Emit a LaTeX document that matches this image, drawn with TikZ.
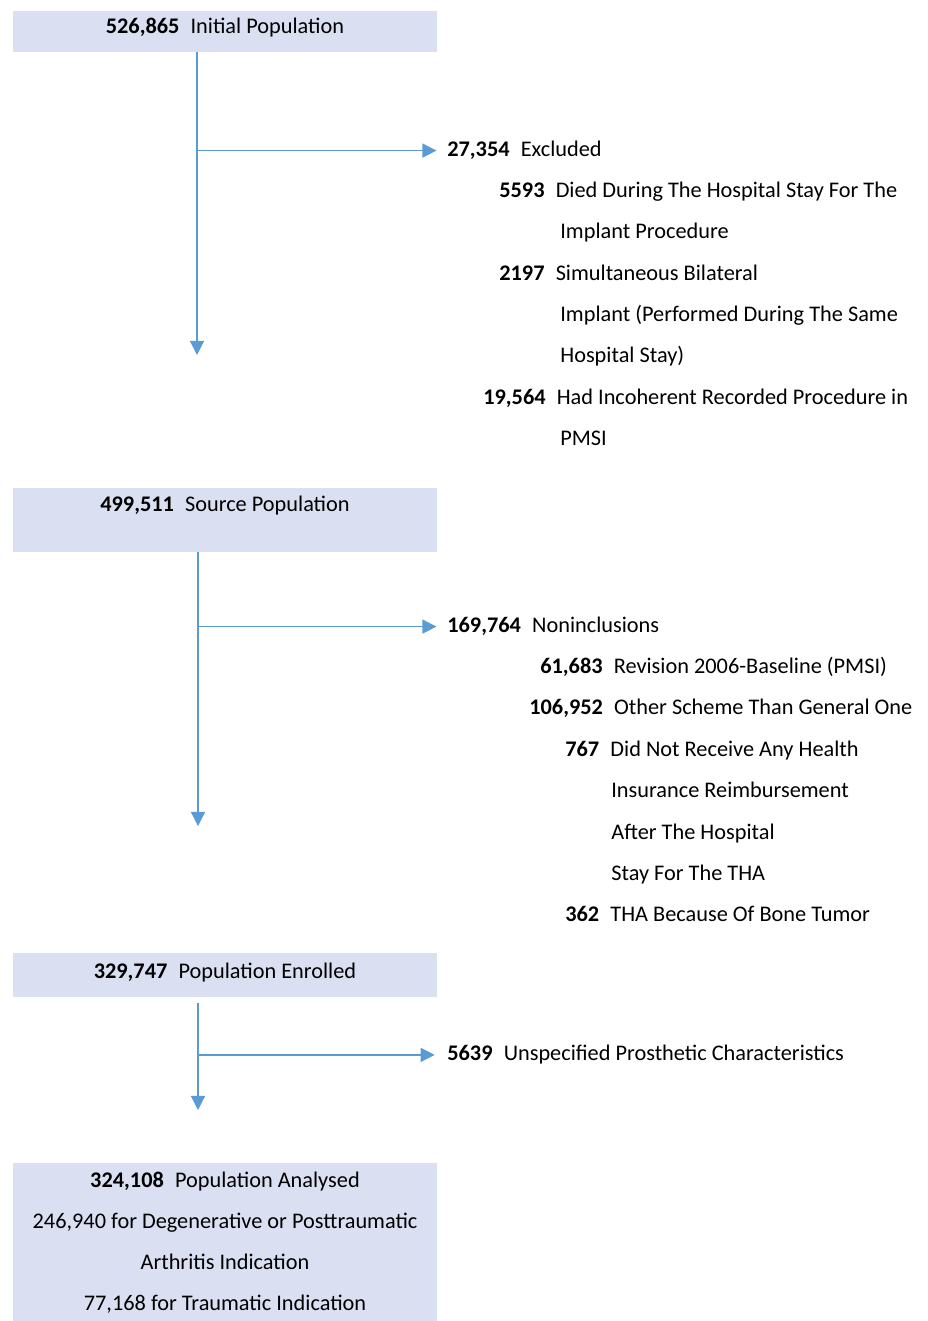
\documentclass[tikz,border=0pt]{standalone}
\usepackage{fontspec}
\setmainfont{Carlito}
\usepackage{xcolor}
\usetikzlibrary{arrows.meta}

\definecolor{boxfill}{RGB}{218,224,242}
\definecolor{flowblue}{RGB}{91,155,213}
\newcommand{\popn}[1]{\textbf{#1}\hspace{0.5em}}

\begin{document}
\begin{tikzpicture}[x=0.02cm, y=-0.02cm,
        font={\fontsize{12.7}{23.2}\selectfont},
        popbox/.style={fill=boxfill, minimum width=8.48cm, inner sep=0pt},
        boxtxt/.style={inner sep=0pt, yshift=-1.5pt},
        txt/.style={inner sep=0pt, anchor=mid west, yshift=-1.5pt},
        flow/.style={flowblue, line width=0.7pt, -{Triangle[length=8pt,width=8pt]}}]
        \useasboundingbox (0,0) rectangle (928,1321);

        % population boxes
        \node[popbox, minimum height=0.82cm] (box1) at (225,31.5) {};
        \node[boxtxt] (pop1) at (225,25) {\popn{526,865}Initial Population};
        \node[popbox, minimum height=1.28cm] (box2) at (225,520) {};
        \node[boxtxt] (pop2) at (225,503) {\popn{499,511}Source Population};
        \node[popbox, minimum height=0.88cm] (box3) at (225,975) {};
        \node[boxtxt] (pop3) at (225,970) {\popn{329,747}Population Enrolled};
        \node[popbox, minimum height=3.16cm] (box4) at (225,1242) {};
        \node[boxtxt, align=center] (pop4) at (225,1240) {\popn{324,108}Population Analysed\\
            246,940 for Degenerative or Posttraumatic\\
            Arthritis Indication\\
            77,168 for Traumatic Indication};

        % excluded
        \node[txt] (exc) at (447,150) {\popn{27,354}Excluded};
        \node[txt] (exa) at (499,191) {\popn{5593}Died During The Hospital Stay For The};
        \node[txt] (exa2) at (560,232) {Implant Procedure};
        \node[txt] (exb) at (499,274) {\popn{2197}Simultaneous Bilateral};
        \node[txt] (exb2) at (560,315) {Implant (Performed During The Same};
        \node[txt] (exb3) at (560,356) {Hospital Stay)};
        \node[txt] (exd) at (483,398) {\popn{19,564}Had Incoherent Recorded Procedure in};
        \node[txt] (exd2) at (560,439) {PMSI};

        % noninclusions
        \node[txt] (non) at (447,626) {\popn{169,764}Noninclusions};
        \node[txt] (nona) at (540,667) {\popn{61,683}Revision 2006-Baseline (PMSI)};
        \node[txt] (nonb) at (529,708) {\popn{106,952}Other Scheme Than General One};
        \node[txt] (nonc) at (565,750) {\popn{767}Did Not Receive Any Health};
        \node[txt] (nonc2) at (611,791) {Insurance Reimbursement};
        \node[txt] (nonc3) at (611,833) {After The Hospital};
        \node[txt] (nonc4) at (611,874) {Stay For The THA};
        \node[txt] (nond) at (565,915) {\popn{362}THA Because Of Bone Tumor};

        % unspecified
        \node[txt] (uns) at (447,1054) {\popn{5639}Unspecified Prosthetic Characteristics};

        % arrows
        \coordinate (e1) at (197,355);
        \coordinate (e2) at (198,826);
        \coordinate (e3) at (198,1110);
        \draw[flow] (e1 |- box1.south) -- (e1);
        \draw[flow, shorten >=6pt] (e1 |- exc) -- (exc.west);
        \draw[flow] (e2 |- box2.south) -- (e2);
        \draw[flow, shorten >=6pt] (e2 |- non) -- (non.west);
        \draw[flow] ([yshift=-3pt]e3 |- box3.south) -- (e3);
        \draw[flow, shorten >=7pt] (e3 |- uns) -- (uns.west);
    \end{tikzpicture}
\end{document}
